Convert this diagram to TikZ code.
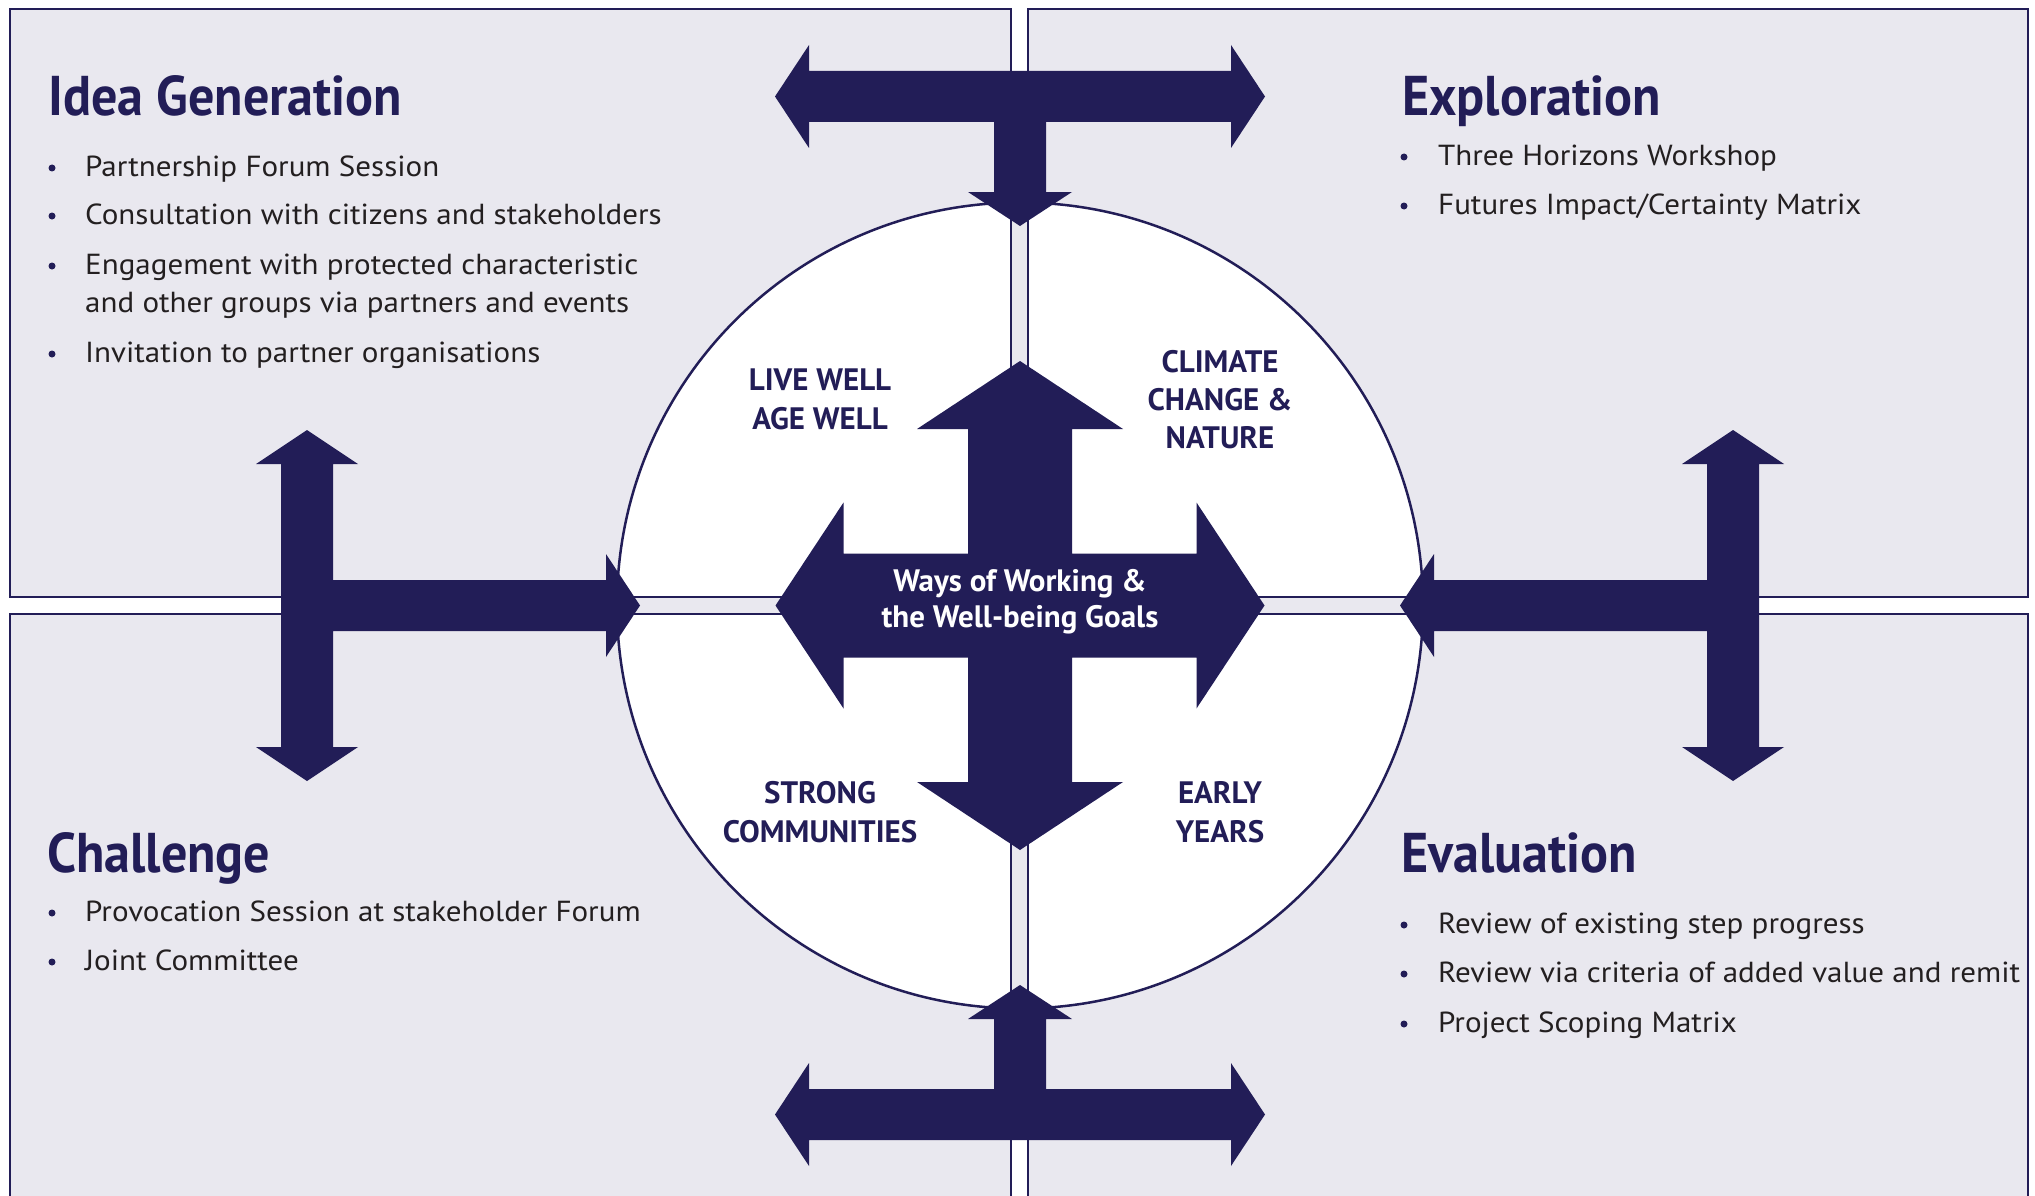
\documentclass[tikz,border=0pt]{standalone}
\usepackage{fontspec}
\setmainfont{PT Sans}
\newfontfamily\headfont{PT Sans}[FakeStretch=0.93]
\newfontfamily\bodyfont{PT Sans}[FakeStretch=1.07]

\definecolor{navy}{HTML}{221D57}
\definecolor{panelgrey}{HTML}{E9E8EF}
\definecolor{bodyink}{HTML}{231F20}

\tikzset{
  panel/.style={fill=panelgrey, draw=navy, line width=2.5pt},
  title/.style={anchor=base west, inner sep=0pt, text=navy, font=\headfont\bfseries\fontsize{56}{62}\selectfont},
  item/.style={anchor=base west, inner sep=0pt, text=bodyink, font=\bodyfont\fontsize{29}{34}\selectfont},
  dot/.style={circle, fill=navy, inner sep=0pt, minimum size=7pt},
  goal/.style={anchor=base, inner sep=0pt, text=navy, font=\bfseries\fontsize{31}{36}\selectfont},
  hub/.style={anchor=base, inner sep=0pt, text=white, font=\bfseries\fontsize{31}{36}\selectfont},
}

\begin{document}
\begin{tikzpicture}[x=1pt,y=-1pt]
\useasboundingbox (0,0) rectangle (2035,1196);

% four panels
\draw[panel] (10,9) rectangle (1011,597);
\draw[panel] (1028,9) rectangle (2028,597);
\draw[panel] (10,614) rectangle (1011,1210);
\draw[panel] (1028,614) rectangle (2028,1210);

% inside the circle the colours swap
\begin{scope}
\clip (1020,605.5) circle[radius=403pt];
\fill[panelgrey] (600,190) rectangle (1440,1020);
\draw[panel,fill=white] (10,9) rectangle (1011,597);
\draw[panel,fill=white] (1028,9) rectangle (2028,597);
\draw[panel,fill=white] (10,614) rectangle (1011,1210);
\draw[panel,fill=white] (1028,614) rectangle (2028,1210);
\end{scope}
\draw[navy,line width=2.5pt] (1020,605.5) circle[radius=403pt];

% T arrows
\fill[navy] (775,96.5) -- (809,45) -- (809,71) -- (1231,71) -- (1231,45) -- (1265,96.5) -- (1231,148) -- (1231,122)
  -- (1046,122) -- (1046,192) -- (1072,192) -- (1020,226) -- (968,192) -- (994,192) -- (994,122)
  -- (809,122) -- (809,148) -- cycle;
\fill[navy] (775,1114.5) -- (809,1063) -- (809,1089) -- (994,1089) -- (994,1019) -- (968,1019) -- (1020,985)
  -- (1072,1019) -- (1046,1019) -- (1046,1089) -- (1231,1089) -- (1231,1063) -- (1265,1114.5) -- (1231,1166)
  -- (1231,1140) -- (809,1140) -- (809,1166) -- cycle;
\fill[navy] (307,430) -- (358,464) -- (333,464) -- (333,580) -- (606,580) -- (606,554) -- (640,605.5) -- (606,657)
  -- (606,631) -- (333,631) -- (333,747) -- (358,747) -- (307,781) -- (256,747) -- (281,747) -- (281,464)
  -- (256,464) -- cycle;
\fill[navy] (1733,430) -- (1682,464) -- (1707,464) -- (1707,580) -- (1434,580) -- (1434,554) -- (1400,605.5) -- (1434,657)
  -- (1434,631) -- (1707,631) -- (1707,747) -- (1682,747) -- (1733,781) -- (1784,747) -- (1759,747) -- (1759,464)
  -- (1784,464) -- cycle;

% centre cross
\begin{scope}[shift={(1020,605.5)}]
\fill[navy] (0,-244.5) -- (103,-176.5) -- (52,-176.5) -- (52,-52) -- (176.5,-52) -- (176.5,-103) -- (244.5,0)
  -- (176.5,103) -- (176.5,52) -- (52,52) -- (52,176.5) -- (103,176.5) -- (0,244.5) -- (-103,176.5)
  -- (-52,176.5) -- (-52,52) -- (-176.5,52) -- (-176.5,103) -- (-244.5,0) -- (-176.5,-103) -- (-176.5,-52)
  -- (-52,-52) -- (-52,-176.5) -- (-103,-176.5) -- cycle;
\end{scope}
\node[hub] (hub1) at (1020,591) {Ways of Working \&};
\node[hub] (hub2) at (1020,627) {the Well-being Goals};

% goals in the circle
\node[goal] (live1) at (820,390) {LIVE WELL};
\node[goal] (live2) at (820,429) {AGE WELL};
\node[goal] (clim1) at (1220,372) {CLIMATE};
\node[goal] (clim2) at (1220,410) {CHANGE \&};
\node[goal] (clim3) at (1220,448) {NATURE};
\node[goal] (strong1) at (820,803) {STRONG};
\node[goal] (strong2) at (820,842) {COMMUNITIES};
\node[goal] (early1) at (1220,803) {EARLY};
\node[goal] (early2) at (1220,842) {YEARS};

% Idea Generation
\node[title] (ideatitle) at (48,116) {Idea Generation};
\node[item] (idea1) at (85,176) {Partnership Forum Session};
\node[item] (idea2) at (85,224) {Consultation with citizens and stakeholders};
\node[item] (idea3) at (85,274) {Engagement with protected characteristic};
\node[item] (idea3b) at (85,312) {and other groups via partners and events};
\node[item] (idea4) at (85,362) {Invitation to partner organisations};
\foreach \y in {176,224,274,362}
  \node[dot] (ideadot\y) at (52,\y-8) {};

% Exploration
\node[title] (explotitle) at (1402,116) {Exploration};
\node[item] (explo1) at (1438,165) {Three Horizons Workshop};
\node[item] (explo2) at (1438,214) {Futures Impact/Certainty Matrix};
\foreach \y in {165,214}
  \node[dot] (explodot\y) at (1404,\y-8) {};

% Challenge
\node[title] (chaltitle) at (47,872) {Challenge};
\node[item] (chal1) at (85,921) {Provocation Session at stakeholder Forum};
\node[item] (chal2) at (85,970) {Joint Committee};
\foreach \y in {921,970}
  \node[dot] (chaldot\y) at (52,\y-8) {};

% Evaluation
\node[title] (evaltitle) at (1401,872) {Evaluation};
\node[item] (eval1) at (1438,933) {Review of existing step progress};
\node[item] (eval2) at (1438,982) {Review via criteria of added value and remit};
\node[item] (eval3) at (1438,1032) {Project Scoping Matrix};
\foreach \y in {933,982,1032}
  \node[dot] (evaldot\y) at (1404,\y-8) {};
\end{tikzpicture}
\end{document}
